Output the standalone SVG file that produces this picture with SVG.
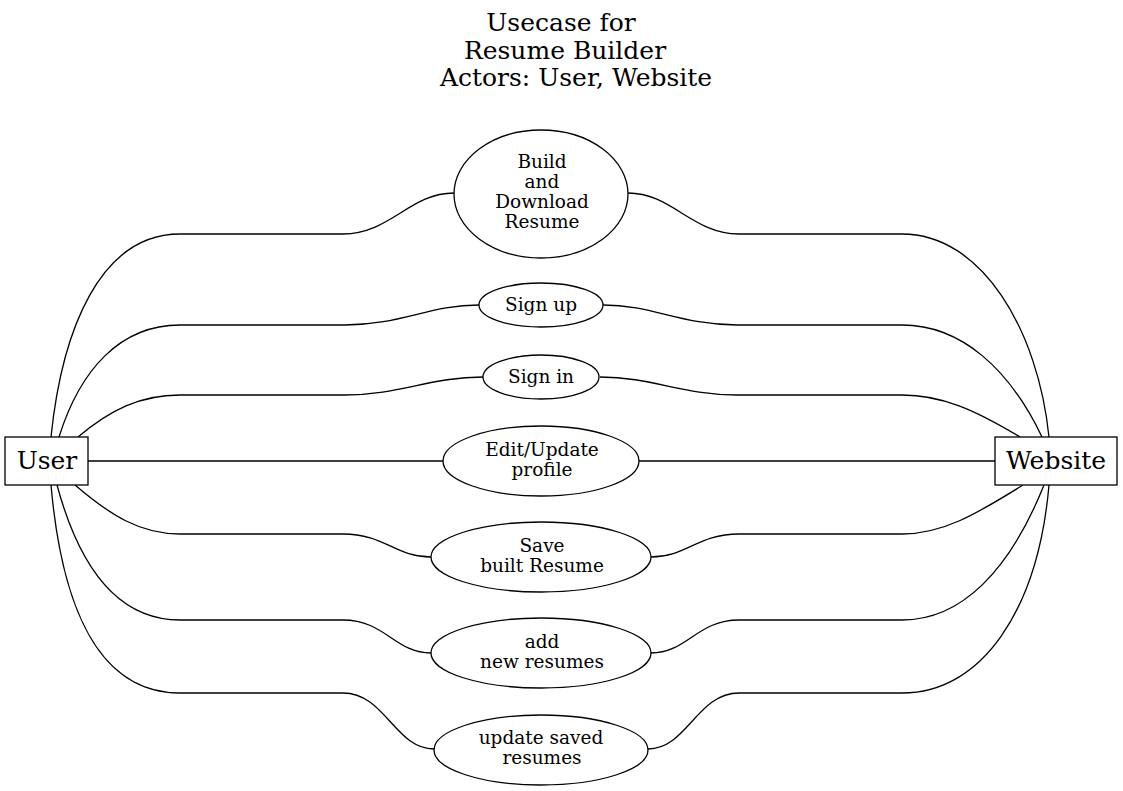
<svg xmlns="http://www.w3.org/2000/svg" width="1123" height="791" viewBox="0 0 1123 791">
<style>
text{font-family:"DejaVu Serif","Liberation Serif",serif;fill:#000;text-anchor:middle}
.t{font-size:25px}
.a{font-size:25px}
.u{font-size:18.5px}
.s{fill:#fff;stroke:#000;stroke-width:1.3}
.e{fill:none;stroke:#000;stroke-width:1.3}
</style>
<rect width="1123" height="791" fill="#fff"/>
<g id="title">
<text class="t" x="561" y="31">Usecase for</text>
<text class="t" x="565" y="59">Resume Builder</text>
<text class="t" x="576" y="86">Actors: User, Website</text>
</g>
<g id="connectors">
<path class="e" d="M51,437 C62,330 100,234 180,234 L343,234 C390,234 410,193 454,193"/>
<path class="e" d="M59,437 C80,370 120,325 180,325 L345,325 C400,325 430,305 479,305"/>
<path class="e" d="M78,437 C110,410 140,395 180,395 L345,395 C400,395 430,377 483,377"/>
<path class="e" d="M88,461 L443,461"/>
<path class="e" d="M75,485 C110,515 140,534 180,534 L343,534 C385,534 395,557 431,557"/>
<path class="e" d="M57,485 C80,570 120,620 180,620 L343,620 C385,620 395,653 431,653"/>
<path class="e" d="M51,485 C62,610 100,693 180,693 L343,693 C385,693 395,749 434,749"/>
<path class="e" d="M628,193 C672,193 692,234 739,234 L902,234 C982,234 1038,330 1049,437"/>
<path class="e" d="M603,305 C652,305 682,325 737,325 L902,325 C962,325 1010,370 1042,437"/>
<path class="e" d="M600,377 C652,377 682,395 737,395 L902,395 C942,395 975,410 1020,437"/>
<path class="e" d="M639,461 L995,461"/>
<path class="e" d="M651,557 C687,557 697,534 739,534 L902,534 C942,534 975,515 1023,485"/>
<path class="e" d="M651,653 C687,653 697,620 739,620 L902,620 C962,620 1010,570 1044,485"/>
<path class="e" d="M648,749 C687,749 697,693 739,693 L902,693 C982,693 1038,610 1049,485"/>
</g>
<g id="user">
<rect class="s" x="5" y="437" width="83" height="48"/>
<text class="a" x="47" y="469">User</text>
</g>
<g id="website">
<rect class="s" x="995" y="437" width="122" height="48"/>
<text class="a" x="1056" y="469">Website</text>
</g>
<g id="build">
<ellipse class="s" cx="541" cy="194" rx="87" ry="64"/>
<text class="u" x="542" y="168">Build</text>
<text class="u" x="542" y="188">and</text>
<text class="u" x="542" y="208">Download</text>
<text class="u" x="542" y="228">Resume</text>
</g>
<g id="signup">
<ellipse class="s" cx="541" cy="305" rx="62" ry="22"/>
<text class="u" x="541" y="311">Sign up</text>
</g>
<g id="signin">
<ellipse class="s" cx="541" cy="377" rx="58" ry="22"/>
<text class="u" x="541" y="383">Sign in</text>
</g>
<g id="edit">
<ellipse class="s" cx="541" cy="461" rx="98" ry="35"/>
<text class="u" x="542" y="456">Edit/Update</text>
<text class="u" x="542" y="476">profile</text>
</g>
<g id="save">
<ellipse class="s" cx="541" cy="557" rx="110" ry="35"/>
<text class="u" x="542" y="552">Save</text>
<text class="u" x="542" y="572">built Resume</text>
</g>
<g id="add">
<ellipse class="s" cx="541" cy="653" rx="110" ry="35"/>
<text class="u" x="542" y="648">add</text>
<text class="u" x="542" y="668">new resumes</text>
</g>
<g id="update">
<ellipse class="s" cx="541" cy="750" rx="107" ry="35"/>
<text class="u" x="541" y="744">update saved</text>
<text class="u" x="542" y="764">resumes</text>
</g>
</svg>
